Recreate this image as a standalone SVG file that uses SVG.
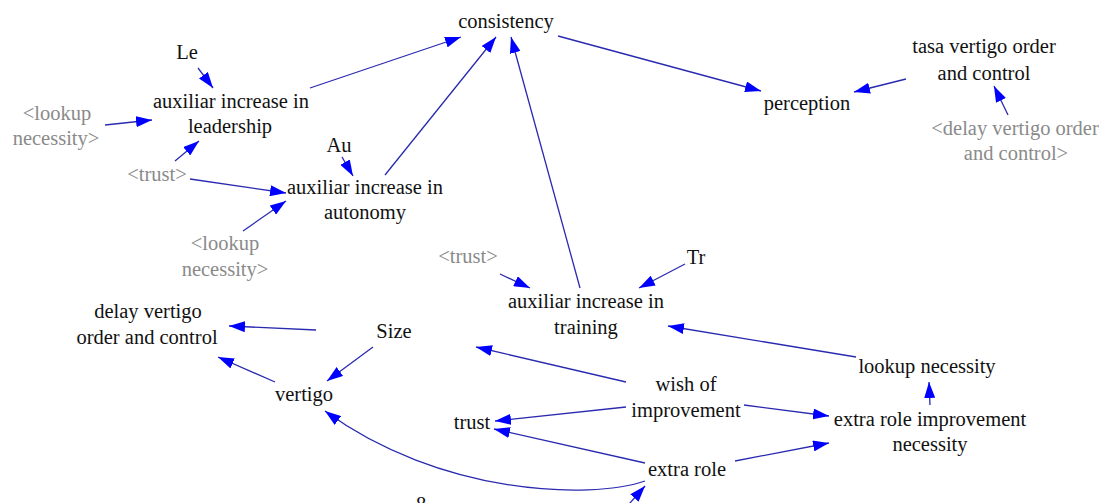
<svg xmlns="http://www.w3.org/2000/svg" width="1105" height="503" viewBox="0 0 1105 503">
<defs>
<marker id="ah" markerUnits="userSpaceOnUse" markerWidth="16" markerHeight="11" refX="16" refY="5.5" orient="auto">
<path d="M0,0 L16,5.5 L0,11 z" fill="#0000ff"/>
</marker>
<style>
text{font-family:"Liberation Serif","Times New Roman",serif;font-size:20.5px;text-anchor:middle;fill:#111}
.g{fill:#8a8a8a}
.c{fill:none;stroke:#2a2ab0;stroke-width:1.3;marker-end:url(#ah)}
</style>
</defs>
<rect width="1105" height="503" fill="#fff"/>
<g id="connectors">
<path class="c" d="M198,68 L213,88"/>
<path class="c" d="M105,125 L152,120"/>
<path class="c" d="M175,161 L199,141"/>
<path class="c" d="M190,179 L286,193"/>
<path class="c" d="M342,157 L353,176"/>
<path class="c" d="M243,231 L286,201"/>
<path class="c" d="M310,88 L461,37"/>
<path class="c" d="M385,175 L496,37"/>
<path class="c" d="M580,288 L511,37"/>
<path class="c" d="M558,36 L761,91"/>
<path class="c" d="M906,79 L854,92"/>
<path class="c" d="M1008,115 L994,86"/>
<path class="c" d="M500,274 L530,288"/>
<path class="c" d="M685,264 L639,288"/>
<path class="c" d="M856,357 L668,326"/>
<path class="c" d="M626,382 L476,347"/>
<path class="c" d="M316,330 L229,326"/>
<path class="c" d="M373,347 L327,381"/>
<path class="c" d="M275,382 L218,357"/>
<path class="c" d="M626,407 L495,421"/>
<path class="c" d="M645,463 L494,429"/>
<path class="c" d="M744,405 L829,416"/>
<path class="c" d="M735,461 L829,443"/>
<path class="c" d="M930,405 L929,382"/>
<path class="c" d="M645,481 C590,500 440,495 325,411"/>
<path class="c" d="M615,520 L645,486"/>
</g>
<g id="consistency"><text x="506" y="28">consistency</text></g>
<g id="Le"><text x="187" y="59">Le</text></g>
<g id="aux_leadership"><text x="231" y="108">auxiliar increase in</text><text x="230" y="133">leadership</text></g>
<g id="lookup_ghost1"><text class="g" x="57" y="120">&lt;lookup</text><text class="g" x="56" y="145">necessity&gt;</text></g>
<g id="trust_ghost1"><text class="g" x="157" y="181">&lt;trust&gt;</text></g>
<g id="Au"><text x="339" y="152">Au</text></g>
<g id="aux_autonomy"><text x="365" y="194">auxiliar increase in</text><text x="365" y="219">autonomy</text></g>
<g id="lookup_ghost2"><text class="g" x="225" y="250">&lt;lookup</text><text class="g" x="225" y="276">necessity&gt;</text></g>
<g id="perception"><text x="807" y="110">perception</text></g>
<g id="tasa"><text x="984" y="53">tasa vertigo order</text><text x="984" y="80">and control</text></g>
<g id="delay_ghost"><text class="g" x="1015" y="135">&lt;delay vertigo order</text><text class="g" x="1016" y="160">and control&gt;</text></g>
<g id="trust_ghost2"><text class="g" x="468" y="263">&lt;trust&gt;</text></g>
<g id="Tr"><text x="696" y="264">Tr</text></g>
<g id="aux_training"><text x="586" y="308">auxiliar increase in</text><text x="586" y="334">training</text></g>
<g id="delay"><text x="148" y="318">delay vertigo</text><text x="147" y="344">order and control</text></g>
<g id="Size"><text x="394" y="338">Size</text></g>
<g id="vertigo"><text x="304" y="401">vertigo</text></g>
<g id="lookup_necessity"><text x="927" y="373">lookup necessity</text></g>
<g id="wish"><text x="686" y="391">wish of</text><text x="686" y="417">improvement</text></g>
<g id="trust"><text x="472" y="429">trust</text></g>
<g id="extra_role_improvement"><text x="930" y="426">extra role improvement</text><text x="930" y="451">necessity</text></g>
<g id="extra_role"><text x="687" y="476">extra role</text></g>
<g id="eight"><text x="421" y="511">8</text></g>
</svg>
